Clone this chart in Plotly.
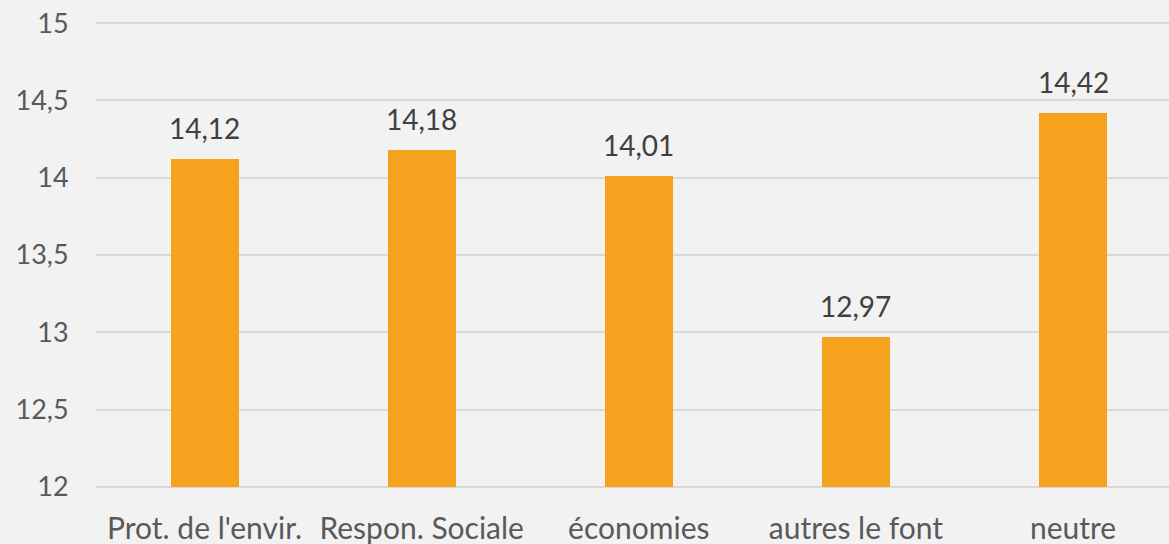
import plotly.graph_objects as go

categories = ["Prot. de l'envir.", "Respon. Sociale", "économies", "autres le font", "neutre"]
values = [14.12, 14.18, 14.01, 12.97, 14.42]
value_labels = ["14,12", "14,18", "14,01", "12,97", "14,42"]
y_ticks = [12, 12.5, 13, 13.5, 14, 14.5, 15]
y_tick_labels = ["12", "12,5", "13", "13,5", "14", "14,5", "15"]

FONT = "Lato"

fig = go.Figure(go.Bar(
    x=list(range(len(categories))),
    y=[v - 12 for v in values],
    base=12,
    width=0.313,
    marker=dict(color="#F5A31F", line=dict(width=0)),
    hoverinfo="skip",
))

for i, (v, t) in enumerate(zip(values, value_labels)):
    fig.add_annotation(
        x=i, y=v, text=t, showarrow=False, yanchor="bottom", yshift=12,
        font=dict(family=FONT, size=28, color="#404040"),
    )

fig.update_layout(
    width=1169, height=544,
    paper_bgcolor="#F2F2F2", plot_bgcolor="#F2F2F2",
    margin=dict(l=96, r=0, t=20, b=54, pad=0),
    showlegend=False,
    bargap=0,
    font=dict(family=FONT, color="#595959"),
)
fig.update_xaxes(
    tickmode="array", tickvals=list(range(len(categories))), ticktext=categories,
    range=[-0.5, 4.442], showgrid=False, zeroline=False, showline=False,
    tickfont=dict(family=FONT, size=30, color="#595959"),
    ticks="outside", ticklen=12, tickcolor="rgba(0,0,0,0)",
)
fig.update_yaxes(
    range=[11.98, 15.02], tickmode="array", tickvals=y_ticks, ticktext=y_tick_labels,
    showgrid=True, gridcolor="#D9D9D9", gridwidth=2, zeroline=False, showline=False,
    tickfont=dict(family=FONT, size=27, color="#595959"),
    ticks="outside", ticklen=21, tickcolor="rgba(0,0,0,0)",
)

fig.write_html(
    "out.html",
    config={"displayModeBar": False},
    post_script="document.body.style.margin='0';document.body.style.background='#F2F2F2';",
)
